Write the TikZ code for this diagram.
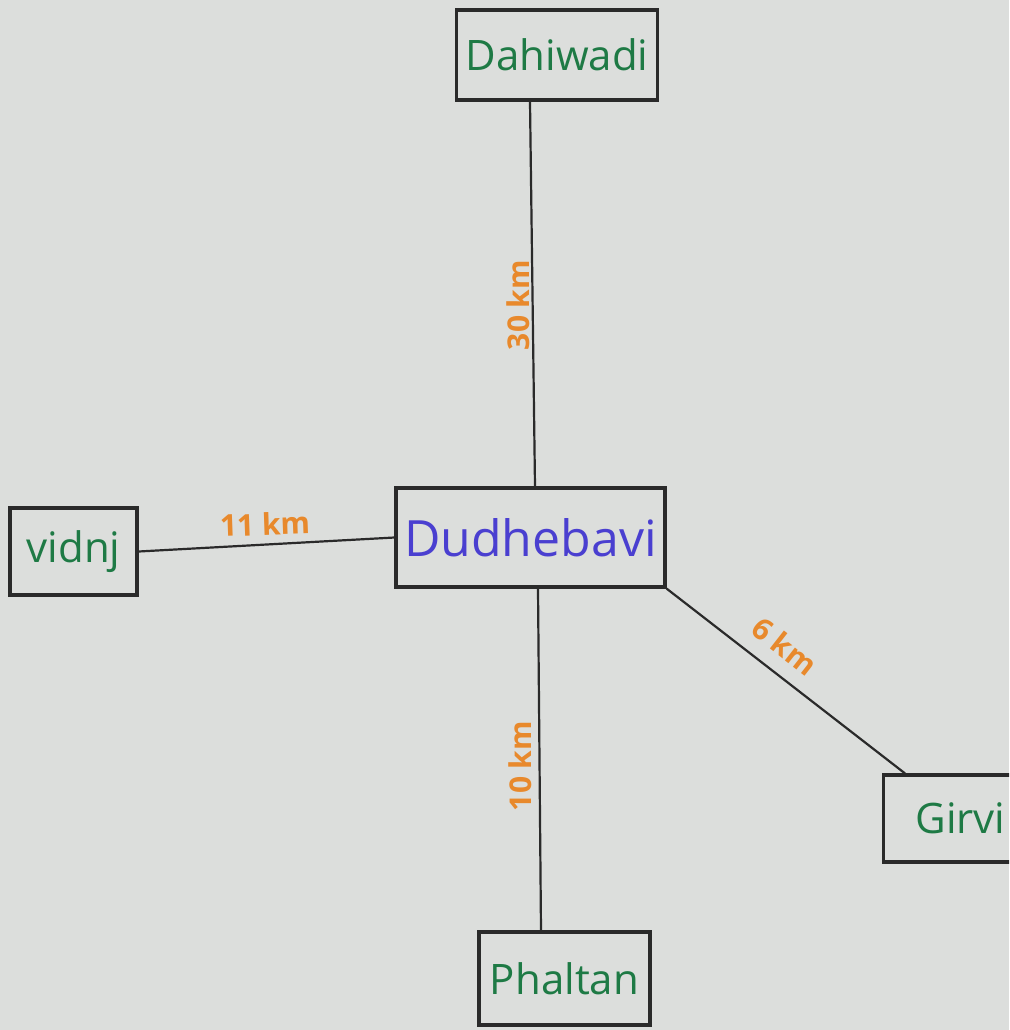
\documentclass[tikz,border=0pt]{standalone}
\usepackage{fontspec}
\setmainfont{Open Sans}
\definecolor{paper}{HTML}{DCDEDC}
\definecolor{pengreen}{HTML}{1E7A45}
\definecolor{penblue}{HTML}{4A3FD0}
\definecolor{penorange}{HTML}{E8892C}
\definecolor{ink}{HTML}{2A2A2A}
\tikzset{
  townbox/.style={draw=ink, line width=1.6pt, text=pengreen, inner sep=0pt, font=\fontsize{21}{24}\selectfont},
  road/.style={draw=ink, line width=1.1pt},
  dist/.style={text=penorange, font=\fontsize{15}{18}\selectfont\bfseries},
}
\begin{document}
\begin{tikzpicture}[x=0.5pt,y=-0.5pt]
\fill[paper] (0,0) rectangle (1009,1030);
\clip (0,0) rectangle (1009,1030);
\useasboundingbox (0,0) rectangle (1009,1030);
\node[townbox, minimum width=100.5pt, minimum height=45pt] (dahi) at (557,55) {Dahiwadi};
\node[townbox, text=penblue, minimum width=134.5pt, minimum height=49.5pt, font=\fontsize{25}{28}\selectfont] (dudh) at (530.5,537.5) {Dudhebavi};
\node[townbox, minimum width=63.5pt, minimum height=43.5pt] (vidn) at (73.5,551.5) {vidnj};
\node[townbox, minimum width=70pt, minimum height=43.5pt, anchor=west] (girv) at (882,818.5) {\hspace{7pt}Girvi\hspace{20pt}};
\node[townbox, minimum width=85.5pt, minimum height=46.5pt] (phal) at (564.5,978.5) {Phaltan};
\draw[road] (dahi.south -| 530,0) -- (dudh.north -| 535,0);
\draw[road] (vidn.east) -- (dudh.west);
\draw[road] (dudh.south east) -- (girv.north west -| 905,0);
\draw[road] (dudh.south -| 538,0) -- (phal.north -| 541,0);
\node[dist, rotate=90] (l30) at (518,305) {30 km};
\node[dist, rotate=2] (l11) at (265,524) {11 km};
\node[dist, rotate=-38] (l6) at (785,646) {6 km};
\node[dist, rotate=90] (l10) at (520,766) {10 km};
\end{tikzpicture}
\end{document}
